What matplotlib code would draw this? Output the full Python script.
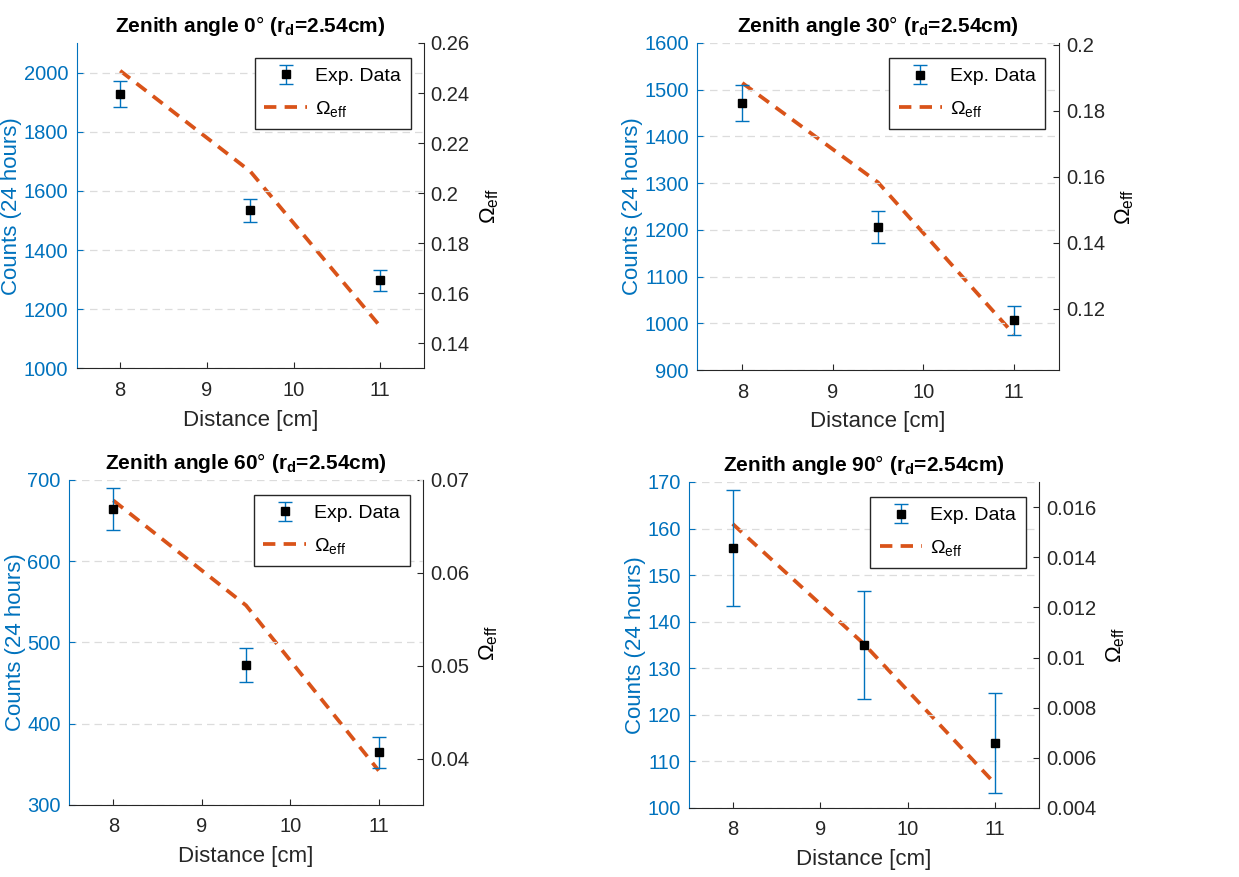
import matplotlib
matplotlib.use("Agg")
import matplotlib.pyplot as plt
import numpy as np

# data
dist = [8, 9.5, 11]
angles = [0, 30, 60, 90]
counts = [[1928, 1534, 1297],
          [1472, 1206, 1007],
          [664, 472, 365],
          [155.8, 135.0, 114.0]]
count_err = [[45, 40, 37],
             [39, 34, 31],
             [26, 21, 19],
             [12.5, 11.7, 10.7]]
omega = [[0.2489, 0.2087, 0.1467],
         [0.1884, 0.1583, 0.1124],
         [0.0678, 0.0565, 0.0387],
         [0.01533, 0.01054, 0.00496]]
left_lim = [(1000, 2100), (900, 1600), (300, 700), (100, 170)]
left_ticks = [np.arange(1000, 2001, 200), np.arange(900, 1601, 100),
              np.arange(300, 701, 100), np.arange(100, 171, 10)]
right_lim = [(0.13, 0.26), (0.1015, 0.2005), (0.035, 0.07), (0.004, 0.017)]
right_ticks = [[0.14, 0.16, 0.18, 0.2, 0.22, 0.24, 0.26],
               [0.12, 0.14, 0.16, 0.18, 0.2],
               [0.04, 0.05, 0.06, 0.07],
               [0.004, 0.006, 0.008, 0.01, 0.012, 0.014, 0.016]]

blue = '#0072BD'
orange = '#D95319'
dark = '#262626'

plt.rcParams['font.family'] = ['Liberation Sans', 'DejaVu Sans']
plt.rcParams['mathtext.fontset'] = 'custom'
plt.rcParams['mathtext.rm'] = 'Liberation Sans'
plt.rcParams['mathtext.it'] = 'Liberation Sans'
plt.rcParams['mathtext.bf'] = 'Liberation Sans:bold'

fig = plt.figure(figsize=(12.39, 8.77), dpi=100)
# [left, bottom, width, height]
pos = [[0.062, 0.580, 0.280, 0.371],
       [0.5626, 0.578, 0.2921, 0.373],
       [0.0557, 0.0821, 0.2857, 0.3706],
       [0.556, 0.0787, 0.2826, 0.3717]]

for i in range(4):
    ax = fig.add_axes(pos[i])
    ax2 = ax.twinx()
    ax.set_zorder(ax2.get_zorder() + 1)
    ax.patch.set_visible(False)

    eb = ax.errorbar(dist, counts[i], yerr=count_err[i], fmt='s', color='black',
                     ecolor=blue, elinewidth=1.0, capsize=5, capthick=1.0,
                     markersize=6, label='Exp. Data', zorder=3)
    ln, = ax2.plot(dist, omega[i], '--', color=orange, lw=2.7, dashes=(3.3, 2.2),
                   label=r'$\Omega_{\rm eff}$')

    ax.set_xlim(7.5, 11.5)
    ax.set_xticks([8, 9, 10, 11])
    ax.set_ylim(*left_lim[i])
    ax.set_yticks(left_ticks[i])
    ax2.set_ylim(*right_lim[i])
    ax2.set_yticks(right_ticks[i])
    ax2.set_yticklabels(['%g' % v for v in right_ticks[i]])

    ax.yaxis.grid(True, ls=(0, (6, 4)), color='#dcdcdc', lw=0.9)
    ax.set_axisbelow(True)

    for a in (ax, ax2):
        a.spines['top'].set_visible(False)
    ax.spines['right'].set_visible(False)
    ax2.spines['left'].set_visible(False)
    ax2.spines['bottom'].set_visible(False)
    ax.spines['left'].set_color(blue)
    ax.spines['bottom'].set_color(dark)
    ax2.spines['right'].set_color(dark)

    ax.tick_params(axis='y', colors=blue, labelsize=14.5, direction='in', length=4, pad=6)
    ax.tick_params(axis='x', colors=dark, labelsize=14.5, direction='in', length=4, pad=9)
    ax2.tick_params(axis='y', colors=dark, labelsize=14.5, direction='in', length=4, pad=5)

    ax.set_xlabel('Distance [cm]', fontsize=16, color=dark, labelpad=7)
    ax.set_ylabel('Counts (24 hours)', fontsize=16, color=blue, labelpad=1)
    ax2.set_ylabel(r'$\Omega_{\rm eff}$', fontsize=16, color='black', labelpad=6)
    ax.set_title(r'Zenith angle %d$\degree$ (r$_{\mathbf{d}}$=2.54cm)' % angles[i],
                 fontsize=15, fontweight='bold', pad=8)

    leg = ax.legend([eb, ln], ['Exp. Data', r'$\Omega_{\rm eff}$'], loc='upper right',
                    bbox_to_anchor=(0.962, 0.954), borderaxespad=0, fontsize=14,
                    fancybox=False, framealpha=1, edgecolor=dark, handlelength=2.2,
                    handletextpad=0.4, borderpad=0.5, labelspacing=0.7)
    leg.get_frame().set_linewidth(1.0)

fig.savefig('out.png', dpi=100)
